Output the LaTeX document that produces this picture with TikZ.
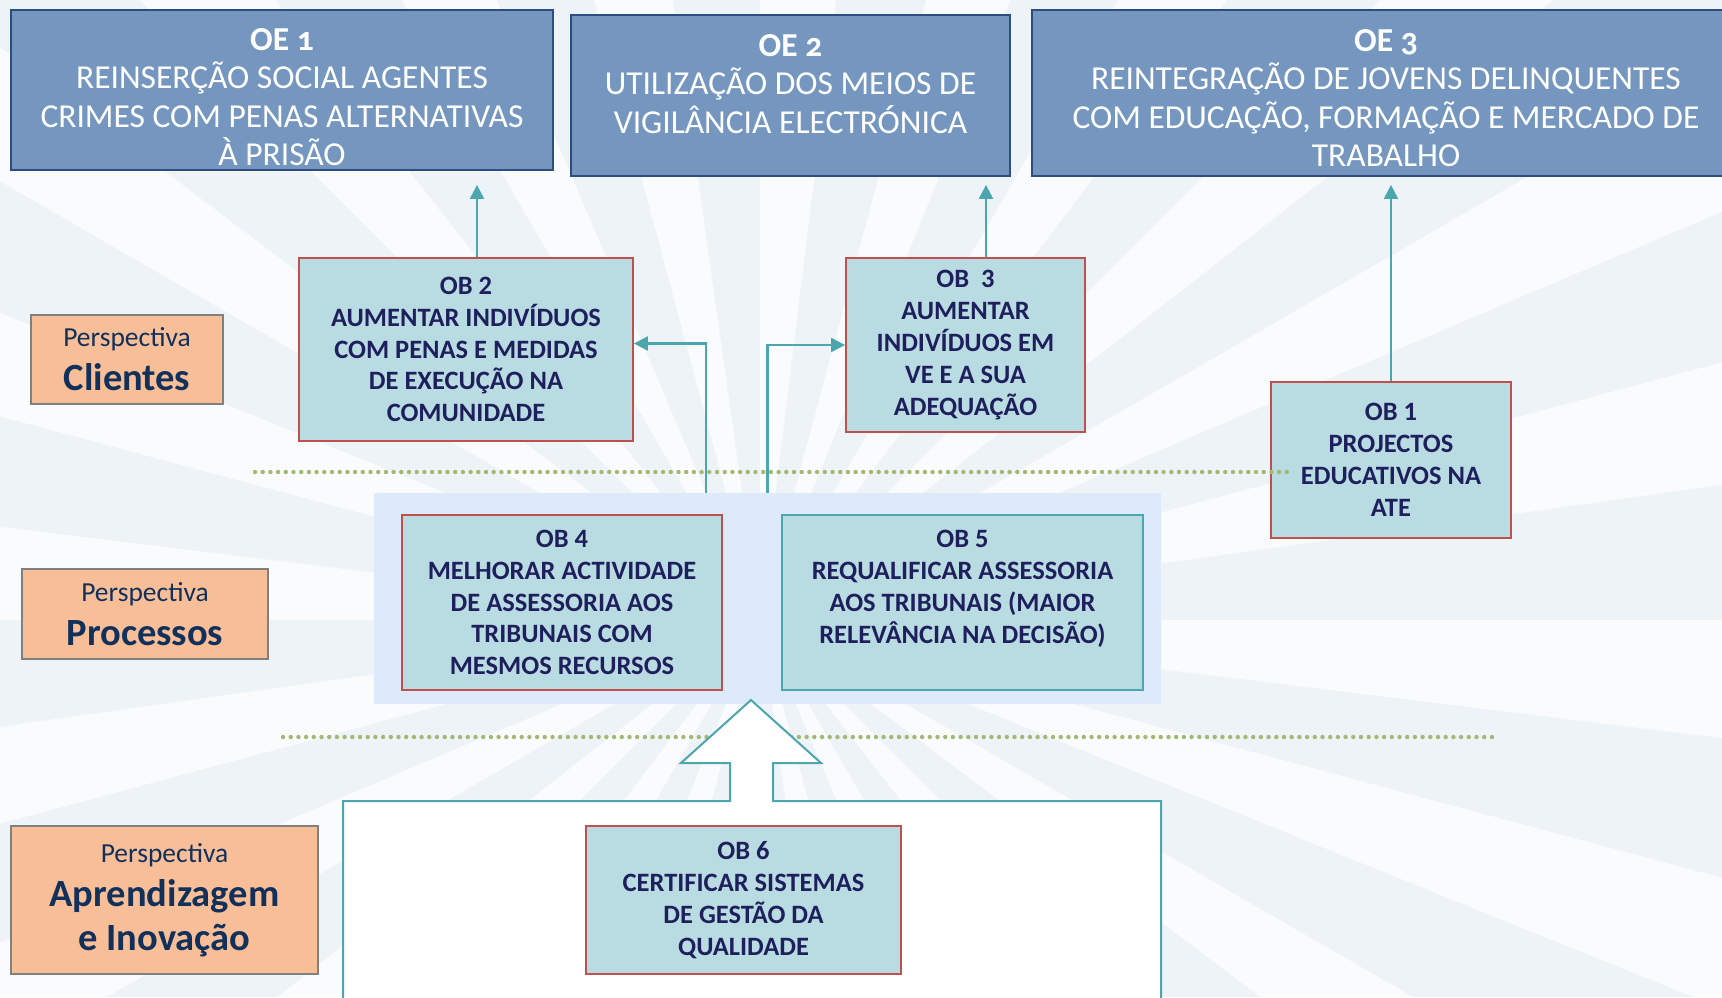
\documentclass[tikz,border=0pt]{standalone}
\usepackage{fontspec}
\setmainfont{Carlito}
\usetikzlibrary{positioning,arrows.meta}

\definecolor{bgbase}{HTML}{EEF3F7}
\definecolor{oefill}{HTML}{7597BF}
\definecolor{oeline}{HTML}{2C4D80}
\definecolor{obfill}{HTML}{B9DCE2}
\definecolor{obline}{HTML}{C0504D}
\definecolor{obtext}{HTML}{1E1F5C}
\definecolor{tealline}{HTML}{4BA6AE}
\definecolor{perfill}{HTML}{F8BE98}
\definecolor{perline}{HTML}{808080}
\definecolor{pertext}{HTML}{11305A}
\definecolor{procfill}{HTML}{DCEAF9}
\definecolor{dotgreen}{HTML}{A3B972}

\tikzset{
  oebox/.style={draw=oeline, line width=1.8pt, fill=oefill},
  oetext/.style={text=white, align=center, inner sep=0pt, font=\fontsize{33.5}{38.4}\selectfont},
  obbox/.style={draw=obline, line width=1.8pt, fill=obfill, text=obtext, align=center,
    font=\bfseries\fontsize{26.5}{31.8}\selectfont},
  perbox/.style={draw=perline, line width=1.8pt, fill=perfill, text=pertext, align=center,
    font=\fontsize{27.5}{44}\selectfont},
  link/.style={draw=tealline, line width=2.2pt, -{Triangle[length=14pt,width=14pt]}},
  dotline/.style={dotgreen, line width=4.4pt, line cap=round, dash pattern=on 0pt off 7.7pt},
}
\newcommand{\oenum}[1]{{\addfontfeature{Numbers=OldStyle}#1}}
\newcommand{\perword}[1]{{\bfseries\fontsize{38.5}{44}\selectfont #1}}

\begin{document}
\begin{tikzpicture}[x=1pt,y=-1pt]
  \useasboundingbox (0,0) rectangle (1722,997);
  \clip (0,0) rectangle (1722,997);
  % background rays
  \fill[bgbase] (0,0) rectangle (1722,997);
  \foreach \a in {0,15,...,345}
    \fill[white, opacity=0.7] (760,620) -- +(\a:2300) -- +(\a+7:2300) -- cycle;

  % processes band
  \node[fill=procfill, minimum width=787pt, minimum height=211pt] (procbg) at (767.5,598.5) {};

  % lower separator and big arrow
  \draw[dotline] (283,737) -- (1494,737);
  \filldraw[draw=tealline, fill=white, line width=2pt]
    (343,1000) -- (343,801) -- (730,801) -- (730,763) -- (681,763) -- (751,700)
    -- (821,763) -- (773,763) -- (773,801) -- (1161,801) -- (1161,1000);

  % strategic objectives
  \node[oebox, minimum width=542pt, minimum height=160pt] (oe1) at (282,90) {};
  \node[oetext, below=19pt of oe1.north] (oe1t)
    {\textbf{OE \oenum{1}}\\REINSERÇÃO SOCIAL AGENTES\\CRIMES COM PENAS ALTERNATIVAS\\À PRISÃO};
  \node[oebox, minimum width=439pt, minimum height=161pt] (oe2) at (790.5,95.5) {};
  \node[oetext, below=20pt of oe2.north] (oe2t)
    {\textbf{OE \oenum{2}}\\UTILIZAÇÃO DOS MEIOS DE\\VIGILÂNCIA ELECTRÓNICA};
  \node[oebox, minimum width=708pt, minimum height=166pt] (oe3) at (1386,93) {};
  \node[oetext, below=20pt of oe3.north] (oe3t)
    {\textbf{OE \oenum{3}}\\REINTEGRAÇÃO DE JOVENS DELINQUENTES\\COM EDUCAÇÃO, FORMAÇÃO E MERCADO DE\\TRABALHO};

  % perspectives
  \node[perbox, minimum width=192pt, minimum height=89pt] (pcli) at (127,359.5)
    {Perspectiva\\\perword{Clientes}};
  \node[perbox, minimum width=246pt, minimum height=90pt] (pproc) at (145,614)
    {Perspectiva\\\perword{Processos}};
  \node[perbox, minimum width=307pt, minimum height=148pt] (papr) at (164.5,900)
    {Perspectiva\\\perword{Aprendizagem}\\\perword{e Inovação}};

  % operational objectives
  \node[obbox, minimum width=334pt, minimum height=183pt] (ob2) at (466,349.5)
    {OB 2\\AUMENTAR INDIVÍDUOS\\COM PENAS E MEDIDAS\\DE EXECUÇÃO NA\\COMUNIDADE};
  \node[obbox, minimum width=239pt, minimum height=174pt] (ob3) at (965.5,345)
    {OB\ \ 3\\AUMENTAR\\INDIVÍDUOS EM\\VE E A SUA\\ADEQUAÇÃO};
  \node[obbox, minimum width=240pt, minimum height=156pt] (ob1) at (1391,460)
    {OB 1\\PROJECTOS\\EDUCATIVOS NA\\ATE};
  \node[obbox, minimum width=320pt, minimum height=175pt] (ob4) at (562,602.5)
    {OB 4\\MELHORAR ACTIVIDADE\\DE ASSESSORIA AOS\\TRIBUNAIS COM\\MESMOS RECURSOS};
  \node[obbox, draw=tealline, minimum width=361pt, minimum height=175pt] (ob5) at (962.5,602.5)
    {OB 5\\REQUALIFICAR ASSESSORIA\\AOS TRIBUNAIS (MAIOR\\RELEVÂNCIA NA DECISÃO)\\~};
  \node[obbox, minimum width=315pt, minimum height=148pt] (ob6) at (743.5,900)
    {OB 6\\CERTIFICAR SISTEMAS\\DE GESTÃO DA\\QUALIDADE};

  % upper separator
  \draw[dotline] (255,472) -- (1292,472);

  % connectors
  \draw[link, shorten >=14pt] ([xshift=11pt]ob2.north) -- ([xshift=11pt]ob2.north |- oe1.south);
  \draw[link, shorten >=8pt] ([xshift=20.5pt]ob3.north) -- ([xshift=20.5pt]ob3.north |- oe2.south);
  \draw[link, shorten >=8pt] (ob1.north) -- (ob1.north |- oe3.south);
  \draw[link] ([xshift=-61.5pt]procbg.north) |- ([yshift=6pt]ob2.east);
  \draw[link] (procbg.north) |- (ob3.west);
\end{tikzpicture}
\end{document}
